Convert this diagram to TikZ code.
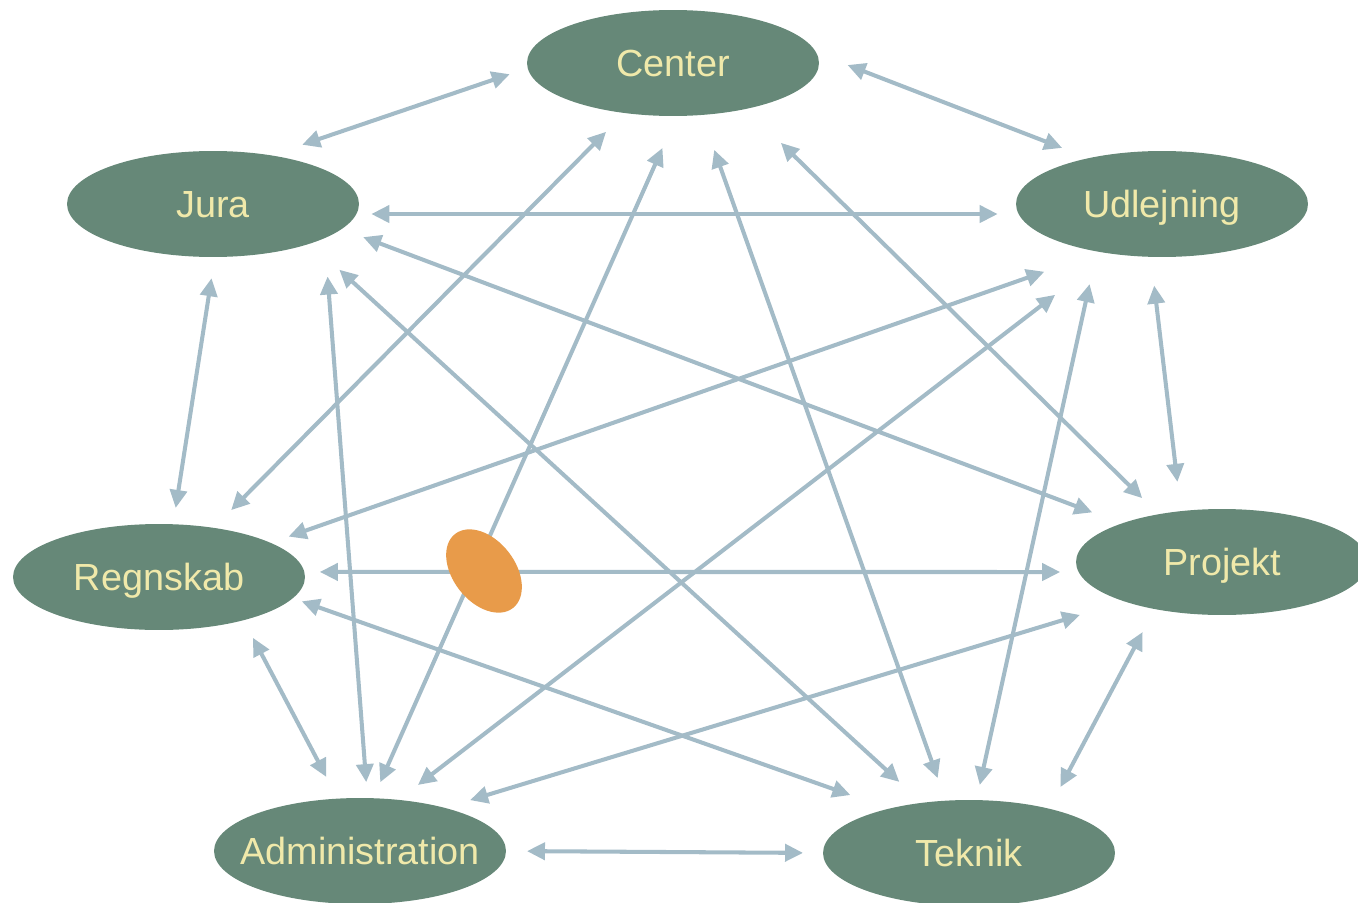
\documentclass[tikz,border=0pt]{standalone}
\usepackage{fontspec}
\setmainfont{Liberation Sans}
\usetikzlibrary{shapes.geometric, arrows.meta}
\definecolor{deptgreen}{HTML}{668878}
\definecolor{labelyellow}{HTML}{F0E9AA}
\definecolor{linkblue}{HTML}{A3BBC7}
\definecolor{spotorange}{HTML}{E89B4A}
\begin{document}
\begin{tikzpicture}[x=0.02cm, y=-0.02cm,
 dept/.style={ellipse, fill=deptgreen, text=labelyellow, minimum width=5.84cm, minimum height=2.12cm, inner ysep=0pt, inner xsep=-0.4cm, outer sep=0pt, text height=15pt, text depth=0pt, font=\fontsize{21.5}{24}\selectfont},
 link/.style={draw=linkblue, line width=2.3pt, {Triangle[length=0.36cm,width=0.34cm]}-{Triangle[length=0.36cm,width=0.34cm]}},
 ends/.style 2 args={shorten <=#1, shorten >=#2}]
 \useasboundingbox (0,0) rectangle (1358,902);
 \node[dept] (cen) at (673,63) {Center};
 \node[dept] (jur) at (213,204) {Jura};
 \node[dept] (udl) at (1162,204) {Udlejning};
 \node[dept] (reg) at (159,577) {Regnskab};
 \node[dept] (pro) at (1222,562) {Projekt};
 \node[dept] (adm) at (360,851) {Administration};
 \node[dept] (tek) at (969,853) {Teknik};
 % every department linked with every other
 \draw[link, ends={0.38cm}{0.66cm}] (cen.182) -- (jur.40);
 \draw[link, ends={0.67cm}{0.57cm}] (cen.4) -- (udl.148);
 \draw[link, ends={0.53cm}{0.50cm}] (cen.226) -- (reg.42);
 \draw[link, ends={0.70cm}{0.35cm}] (cen.274) -- (adm.76);
 \draw[link, ends={0.74cm}{0.48cm}] (cen.299) -- (tek.114);
 \draw[link, ends={0.97cm}{0.46cm}] (cen.328) -- (pro.143);
 \draw[link, ends={0.30cm}{0.42cm}] (jur.356) -- (udl.184);
 \draw[link, ends={0.43cm}{0.33cm}] (jur.272) -- (reg.75);
 \draw[link, ends={0.77cm}{0.32cm}] (jur.343) -- (adm.82);
 \draw[link, ends={0.78cm}{0.62cm}] (jur.338) -- (tek.133);
 \draw[link, ends={0.46cm}{0.63cm}] (jur.349) -- (pro.159);
 \draw[link, ends={1.19cm}{0.38cm}] (udl.218) -- (reg.17);
 \draw[link, ends={1.36cm}{0.49cm}] (udl.223) -- (adm.53);
 \draw[link, ends={0.67cm}{0.31cm}] (udl.216) -- (tek.82);
 \draw[link, ends={0.58cm}{0.59cm}] (udl.258) -- (pro.129);
 \draw[link, ends={0.31cm}{0.37cm}] (reg.2) -- (pro.184);
 \draw[link, ends={0.40cm}{0.49cm}] (reg.333) -- (adm.113);
 \draw[link, ends={0.19cm}{0.82cm}] (reg.351) -- (tek.151);
 \draw[link, ends={0.93cm}{0.53cm}] (pro.202) -- (adm.27);
 \draw[link, ends={0.52cm}{0.49cm}] (pro.215) -- (tek.29);
 \draw[link, ends={0.42cm}{0.40cm}] (adm.east) -- (tek.west);
 \node[ellipse, fill=spotorange, minimum width=1.88cm, minimum height=1.24cm, inner sep=0pt, rotate=-52] (spot) at (484,571) {};
\end{tikzpicture}
\end{document}
